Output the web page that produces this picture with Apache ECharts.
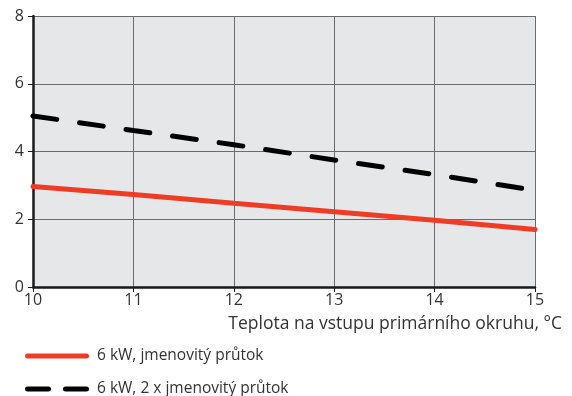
<!DOCTYPE html>
<html>
<head>
<meta charset="utf-8">
<script src="https://cdn.jsdelivr.net/npm/echarts@6/dist/echarts.min.js"></script>
<style>
  html, body { margin: 0; padding: 0; background: #fff; }
  #chart { width: 572px; height: 396px; }
</style>
</head>
<body>
<div id="chart"></div>
<script>
const temps = [10, 11, 12, 13, 14, 15]
const nominalFlow = [2.97, 2.73, 2.47, 2.22, 1.97, 1.70]
const doubleFlow = [5.05, 4.62, 4.20, 3.75, 3.32, 2.85]
const seriesNames = ['6 kW, jmenovitý průtok', '6 kW, 2 x jmenovitý průtok']
const xTitle = 'Teplota na vstupu primárního okruhu, °C'

const font = '"Open Sans", "Noto Sans", sans-serif'
const chart = echarts.init(document.getElementById('chart'), null, { renderer: 'canvas' })

const legendText = { color: '#333', fontSize: 15.5, fontFamily: font, padding: [0, 0, 0, 3] }

chart.setOption({
  animation: false,
  textStyle: { fontFamily: font },
  grid: { left: 33, right: 37, top: 16, bottom: 109, show: true, backgroundColor: '#e6e7e8', borderWidth: 0 },
  xAxis: {
    type: 'value',
    min: 10, max: 15, interval: 1,
    axisLine: { lineStyle: { color: '#1a1a1a', width: 2.5 } },
    axisTick: { show: true, length: 5, lineStyle: { color: '#1a1a1a', width: 1 } },
    axisLabel: { color: '#333', fontSize: 16, margin: 5, fontFamily: font },
    splitLine: { show: true, lineStyle: { color: '#6b6b6b', width: 1 } }
  },
  yAxis: {
    type: 'value',
    min: 0, max: 8, interval: 2,
    axisLine: { show: true, lineStyle: { color: '#1a1a1a', width: 2.5 } },
    axisTick: { show: true, length: 5, lineStyle: { color: '#1a1a1a', width: 1 } },
    axisLabel: { color: '#333', fontSize: 16, margin: 9, fontFamily: font },
    splitLine: { show: true, lineStyle: { color: '#6b6b6b', width: 1 } }
  },
  legend: [
    {
      left: 20, top: 343,
      itemWidth: 64, itemHeight: 5,
      icon: 'path://M2.5,0h59a2.5,2.5 0 0 1 0,5h-59a2.5,2.5 0 0 1 0,-5z',
      textStyle: legendText,
      data: [seriesNames[0]]
    },
    {
      left: 20, top: 376,
      itemWidth: 64, itemHeight: 5,
      icon: 'path://M2.5,0h21a2.5,2.5 0 0 1 0,5h-21a2.5,2.5 0 0 1 0,-5z M40.5,0h21a2.5,2.5 0 0 1 0,5h-21a2.5,2.5 0 0 1 0,-5z',
      textStyle: legendText,
      data: [seriesNames[1]]
    }
  ],
  graphic: [{
    type: 'text',
    right: 10, top: 315,
    style: { text: xTitle, fill: '#333', font: '17.5px ' + font }
  }],
  series: [
    {
      name: seriesNames[0],
      type: 'line',
      data: temps.map((t, i) => [t, nominalFlow[i]]),
      symbol: 'none',
      lineStyle: { color: '#f03c24', width: 5, cap: 'round' },
      itemStyle: { color: '#f03c24' }
    },
    {
      name: seriesNames[1],
      type: 'line',
      data: temps.map((t, i) => [t, doubleFlow[i]]),
      symbol: 'none',
      lineStyle: { color: '#000', width: 5, type: [24, 23], cap: 'round' },
      itemStyle: { color: '#000' }
    }
  ]
})
</script>
</body>
</html>
